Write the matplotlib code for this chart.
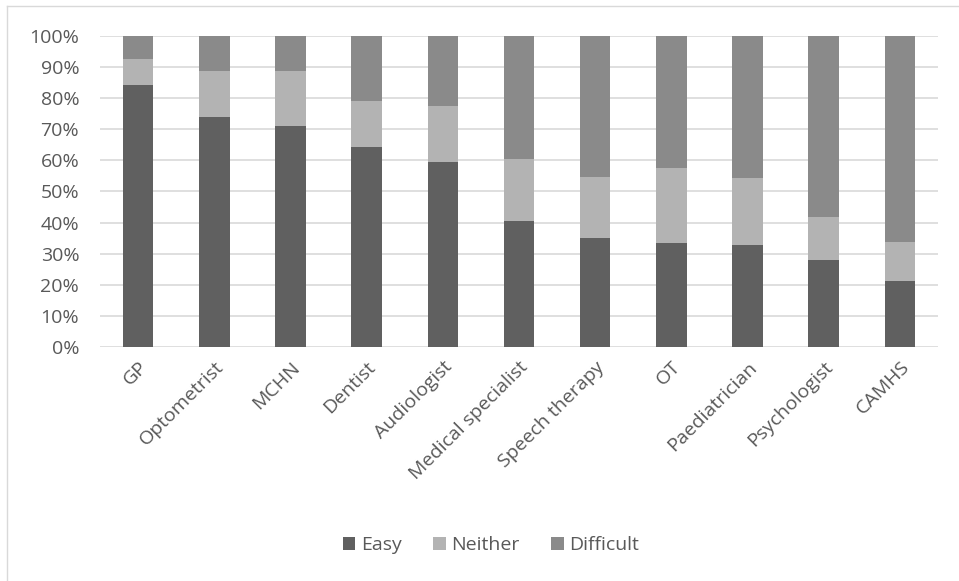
import numpy as np
import matplotlib
matplotlib.use('Agg')
from matplotlib import pyplot as plt
from matplotlib.lines import Line2D

# services and share of responses (%) per answer
services = ['GP', 'Optometrist', 'MCHN', 'Dentist', 'Audiologist', 'Medical specialist',
            'Speech therapy', 'OT', 'Paediatrician', 'Psychologist', 'CAMHS']
easy = [84.4, 73.8, 71.2, 64.4, 59.6, 40.5, 35.2, 33.5, 32.7, 28.1, 21.1]
neither = [8.1, 14.8, 17.6, 14.8, 18.0, 20.0, 19.5, 24.0, 21.5, 13.7, 12.6]
difficult = [100 - e - n for e, n in zip(easy, neither)]

plt.rcParams['font.family'] = ['Open Sans', 'DejaVu Sans']
text_col = '#595959'
fs = 14

fig = plt.figure(figsize=(9.59, 5.81), dpi=100)
ax = fig.add_axes([0.1043, 0.4028, 0.8737, 0.5352])

x = np.arange(len(services))
w = 0.4
ax.bar(x, easy, w, color='#606060', label='Easy', zorder=3)
ax.bar(x, neither, w, bottom=easy, color='#b3b3b3', label='Neither', zorder=3)
bottom2 = [e + n for e, n in zip(easy, neither)]
ax.bar(x, difficult, w, bottom=bottom2, color='#8a8a8a', label='Difficult', zorder=3)

ax.set_xlim(-0.5, len(services) - 0.5)
ax.set_ylim(0, 100)
ax.set_yticks(range(0, 101, 10))
ax.set_yticklabels(['{}%'.format(v) for v in range(0, 101, 10)])
ax.set_xticks(x)
ax.set_xticklabels(services, rotation=45, ha='right', rotation_mode='anchor')
ax.tick_params(length=0, labelsize=fs, colors=text_col)
ax.tick_params(axis='x', pad=8)
ax.tick_params(axis='y', pad=15)
ax.yaxis.grid(True, color='#d9d9d9', linewidth=1.2, zorder=0)
for s in ax.spines.values():
    s.set_visible(False)

leg = fig.legend(loc='center', bbox_to_anchor=(0.512, 0.062), ncol=3, frameon=False,
                 fontsize=fs, handlelength=0.65, handleheight=0.65,
                 handletextpad=0.3, columnspacing=1.6)
for t in leg.get_texts():
    t.set_color(text_col)

# chart area frame (only left and top edges fall inside the image)
fig.add_artist(Line2D([0.0078, 0.0078], [0.0, 0.9897], transform=fig.transFigure,
                      color='#d9d9d9', linewidth=1))
fig.add_artist(Line2D([0.0078, 1.0], [0.9897, 0.9897], transform=fig.transFigure,
                      color='#d9d9d9', linewidth=1))

fig.savefig('out.png', dpi=100)
